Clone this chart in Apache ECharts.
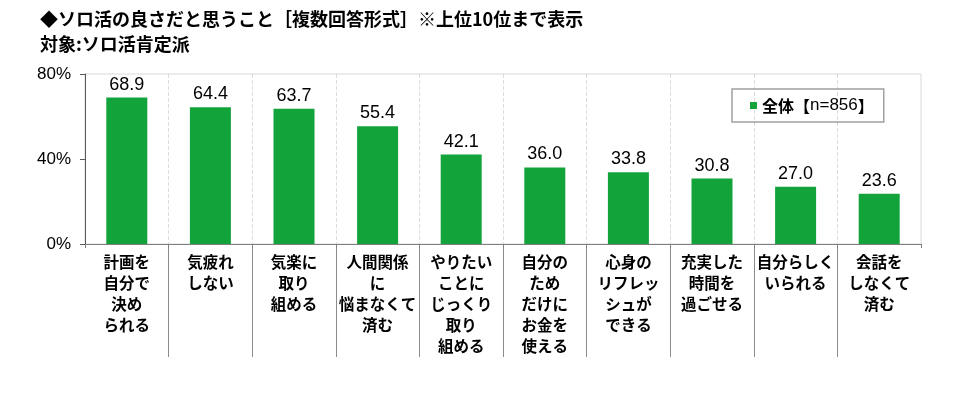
<!DOCTYPE html>
<html>
<head>
<meta charset="utf-8">
<script src="https://cdn.jsdelivr.net/npm/echarts@6/dist/echarts.min.js"></script>
<style>
  html, body { margin: 0; padding: 0; background: #fff; }
  #chart { width: 966px; height: 396px; }
</style>
</head>
<body>
<div id="chart"></div>
<script>
// ソロ活の良さ（上位10位）
const categories = [
  '計画を\n自分で\n決め\nられる',
  '気疲れ\nしない',
  '気楽に\n取り\n組める',
  '人間関係\nに\n悩まなくて\n済む',
  'やりたい\nことに\nじっくり\n取り\n組める',
  '自分の\nため\nだけに\nお金を\n使える',
  '心身の\nリフレッ\nシュが\nできる',
  '充実した\n時間を\n過ごせる',
  '自分らしく\nいられる',
  '会話を\nしなくて\n済む'
]
const values = [68.9, 64.4, 63.7, 55.4, 42.1, 36.0, 33.8, 30.8, 27.0, 23.6]
const seriesName = '全体【n=856】'
const yTicks = [0, 40, 80]

const jp = '"Noto Sans CJK JP", sans-serif'
const num = '"Liberation Sans", Arial, sans-serif'
const green = '#12a33b'

const chart = echarts.init(document.getElementById('chart'))

chart.setOption({
  animation: false,
  title: {
    text: '◆ソロ活の良さだと思うこと［複数回答形式］※上位10位まで表示\n対象:ソロ活肯定派',
    left: 40,
    top: 7,
    padding: 0,
    textStyle: { fontFamily: jp, fontSize: 18, fontWeight: 'bold', color: '#000', lineHeight: 25 }
  },
  legend: {
    left: 732,
    top: 89,
    padding: [8, 10, 8, 18],
    borderColor: '#a0a0a0',
    borderWidth: 1.5,
    icon: 'rect',
    itemWidth: 7,
    itemHeight: 7,
    data: [seriesName],
    formatter: () => '{b|全体【}{n|n=856}{b|】}',
    textStyle: {
      color: '#000',
      rich: {
        b: { fontFamily: jp, fontSize: 16, fontWeight: 'bold', color: '#000' },
        n: { fontFamily: num, fontSize: 17, color: '#000' }
      }
    }
  },
  grid: [
    { left: 85, right: 45, top: 74, height: 170, show: true, borderColor: '#d9d9d9', borderWidth: 1 },
    { left: 85, right: 45, top: 244, height: 113 }
  ],
  xAxis: [
    {
      type: 'category',
      gridIndex: 0,
      data: categories,
      axisLine: { lineStyle: { color: '#7f7f7f', width: 1 } },
      axisTick: { show: true, length: 4, lineStyle: { color: '#7f7f7f' } },
      axisLabel: {
        interval: 0,
        margin: 8,
        fontFamily: jp,
        fontSize: 15.5,
        fontWeight: 'bold',
        color: '#000',
        lineHeight: 21,
        align: 'center'
      },
      splitLine: {
        show: true,
        showMinLine: false,
        showMaxLine: false,
        lineStyle: { color: '#dcdcdc', type: 'dashed', width: 1 }
      }
    },
    {
      type: 'category',
      gridIndex: 1,
      data: categories,
      axisLine: { show: false },
      axisTick: { show: false },
      axisLabel: { show: false },
      splitLine: {
        show: true,
        showMinLine: false,
        showMaxLine: false,
        lineStyle: { color: '#8c8c8c', width: 1 }
      }
    }
  ],
  yAxis: [
    {
      type: 'value',
      gridIndex: 0,
      min: yTicks[0],
      max: yTicks[yTicks.length - 1],
      interval: 40,
      axisLine: { show: true, lineStyle: { color: '#595959', width: 1 } },
      axisTick: { show: true, length: 5, lineStyle: { color: '#595959' } },
      axisLabel: {
        margin: 14,
        fontFamily: num,
        fontSize: 17,
        color: '#000',
        formatter: '{value}%'
      },
      splitLine: { show: false }
    },
    {
      type: 'value',
      gridIndex: 1,
      show: false,
      min: 0,
      max: 1,
      splitLine: { show: false }
    }
  ],
  series: [
    {
      name: seriesName,
      type: 'bar',
      xAxisIndex: 0,
      yAxisIndex: 0,
      barWidth: 41,
      itemStyle: { color: green },
      label: {
        show: true,
        position: 'top',
        distance: 4,
        fontFamily: num,
        fontSize: 18,
        color: '#000',
        formatter: (p) => p.value.toFixed(1)
      },
      data: values
    }
  ]
})
</script>
</body>
</html>
